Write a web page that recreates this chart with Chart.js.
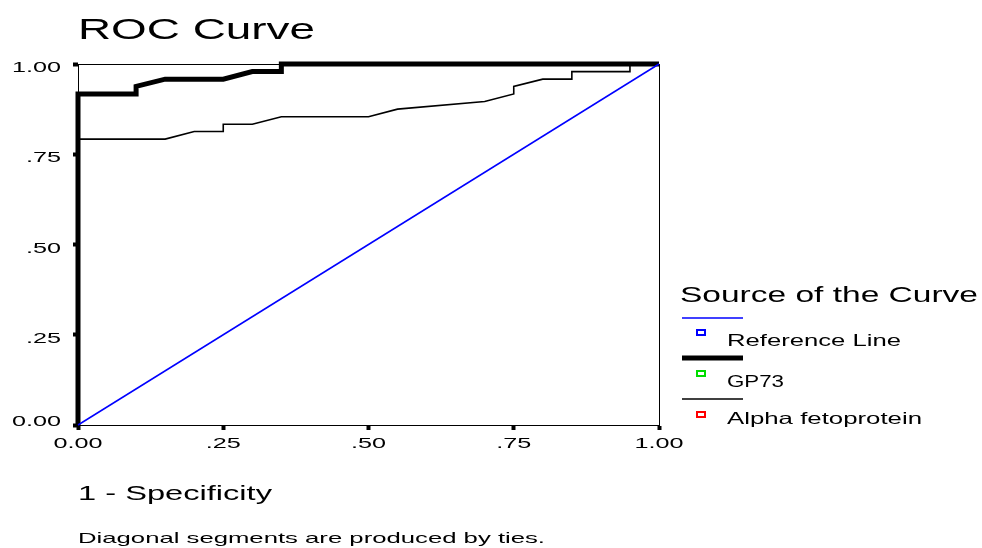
<!DOCTYPE html>
<html>
<head>
<meta charset="utf-8">
<script src="https://cdn.jsdelivr.net/npm/chart.js@4.4.1/dist/chart.umd.min.js"></script>
<style>
  html, body { margin: 0; padding: 0; background: #fff; }
  #wrap { width: 982px; height: 548px; }
</style>
</head>
<body>
<div id="wrap"><canvas id="roc" width="982" height="548"></canvas></div>
<script>
/* ROC curve, GP73 vs alpha fetoprotein, values */

var tickValues = [0, 0.25, 0.5, 0.75, 1];
var tickLabels = ["0.00", ".25", ".50", ".75", "1.00"];

var refX = [0, 1];
var refY = [0, 1];

var gp73X = [0, 0, 0.10, 0.10, 0.15, 0.25, 0.30, 0.35, 0.35, 1];
var gp73Y = [0, 0.917, 0.917, 0.938, 0.958, 0.958, 0.979, 0.979, 1, 1];

var afpX = [0, 0, 0.15, 0.20, 0.25, 0.25, 0.30, 0.35, 0.50, 0.55, 0.70, 0.75, 0.75, 0.80, 0.85, 0.85, 0.95, 0.95, 1];
var afpY = [0, 0.792, 0.792, 0.813, 0.813, 0.833, 0.833, 0.854, 0.854, 0.875, 0.896, 0.917, 0.938, 0.958, 0.958, 0.979, 0.979, 1, 1];

var seriesNames = ["Reference Line", "GP73", "Alpha fetoprotein"];
var markerColors = ["#0000ff", "#00dd00", "#ff0000"];

var FONT = '"Liberation Sans", Arial, sans-serif';

function pts(xs, ys) {
  return xs.map(function (x, i) { return {x: x, y: ys[i]}; });
}

// SPSS text comes out stretched sideways, so stretch each string to its width
function fitText(ctx, text, x, baseline, size, width, align) {
  ctx.font = size + "px " + FONT;
  var w = ctx.measureText(text).width;
  ctx.save();
  ctx.translate(x, baseline);
  ctx.scale(width / w, 1);
  ctx.textAlign = align || "left";
  ctx.textBaseline = "alphabetic";
  ctx.fillStyle = "#000";
  ctx.fillText(text, 0, 0);
  ctx.restore();
}

function stretchText(ctx, text, x, baseline, size, sx, align) {
  ctx.font = size + "px " + FONT;
  ctx.save();
  ctx.translate(x, baseline);
  ctx.scale(sx, 1);
  ctx.textAlign = align || "left";
  ctx.textBaseline = "alphabetic";
  ctx.fillStyle = "#000";
  ctx.fillText(text, 0, 0);
  ctx.restore();
}

var framePlugin = {
  id: "frame",
  beforeDatasetsDraw: function (chart) {
    var a = chart.chartArea, ctx = chart.ctx;
    ctx.save();
    ctx.strokeStyle = "#000";
    ctx.lineWidth = 1;
    ctx.strokeRect(a.left + 0.5, a.top + 0.5, a.right - a.left, a.bottom - a.top);
    ctx.restore();
  },
  afterDraw: function (chart) {
    var ctx = chart.ctx;
    var xs = chart.scales.x, ys = chart.scales.y;

    // tick labels (the 0.00 on the y axis sits up on the axis line)
    tickValues.forEach(function (v, i) {
      var off = v === 0 ? 1 : 8;
      stretchText(ctx, tickLabels[i], 61, ys.getPixelForValue(v) + off, 15, 1.68, "right");
      stretchText(ctx, tickLabels[i], xs.getPixelForValue(v), 448, 15, 1.68, "center");
    });

    fitText(ctx, "ROC Curve", 78, 39, 29, 237);
    fitText(ctx, "1 - Specificity", 78, 500, 19.5, 194);
    fitText(ctx, "Diagonal segments are produced by ties.", 78, 543, 15, 467);

    // legend
    fitText(ctx, "Source of the Curve", 680, 302, 22, 298);
    var ds = chart.data.datasets;
    var lineY = [318, 358, 399];
    var textBase = [346, 387, 424];
    var boxY = [330, 371, 412];
    ds.forEach(function (d, i) {
      ctx.save();
      ctx.strokeStyle = d.borderColor;
      ctx.lineWidth = d.borderWidth;
      ctx.beginPath();
      ctx.moveTo(682, lineY[i]);
      ctx.lineTo(743, lineY[i]);
      ctx.stroke();
      ctx.strokeStyle = markerColors[i];
      ctx.lineWidth = 2;
      ctx.strokeRect(697, boxY[i], 8, 5);
      ctx.restore();
      fitText(ctx, seriesNames[i], 727, textBase[i], 16.5, [174, 57, 195][i]);
    });
  }
};

new Chart("roc", {
  type: "scatter",
  data: {
    datasets: [{
      label: seriesNames[0],
      data: pts(refX, refY),
      borderColor: "#0000ff",
      borderWidth: 1.5
    }, {
      label: seriesNames[1],
      data: pts(gp73X, gp73Y),
      borderColor: "#000000",
      borderWidth: 5
    }, {
      label: seriesNames[2],
      data: pts(afpX, afpY),
      borderColor: "#000000",
      borderWidth: 1.6
    }]
  },
  options: {
    responsive: false,
    animation: false,
    events: [],
    showLine: true,
    clip: false,
    elements: {
      point: {radius: 0},
      line: {tension: 0, borderJoinStyle: "miter", borderCapStyle: "butt"}
    },
    layout: {padding: {top: 64, right: 323, left: 0, bottom: 0}},
    plugins: {
      legend: {display: false},
      title: {display: false},
      tooltip: {enabled: false}
    },
    scales: {
      x: {
        type: "linear",
        min: 0, max: 1,
        afterFit: function (s) { s.height = 123; },
        afterBuildTicks: function (s) { s.ticks = tickValues.map(function (v) { return {value: v}; }); },
        ticks: {display: false},
        grid: {drawOnChartArea: false, drawTicks: true, tickLength: 5, tickWidth: 4, tickColor: "#000"},
        border: {display: true, color: "#000", width: 1}
      },
      y: {
        type: "linear",
        min: 0, max: 1,
        afterFit: function (s) { s.width = 78; },
        afterBuildTicks: function (s) { s.ticks = tickValues.map(function (v) { return {value: v}; }); },
        ticks: {display: false},
        grid: {drawOnChartArea: false, drawTicks: true, tickLength: 5, tickWidth: 4, tickColor: "#000"},
        border: {display: true, color: "#000", width: 1}
      }
    }
  },
  plugins: [framePlugin]
});
</script>
</body>
</html>
